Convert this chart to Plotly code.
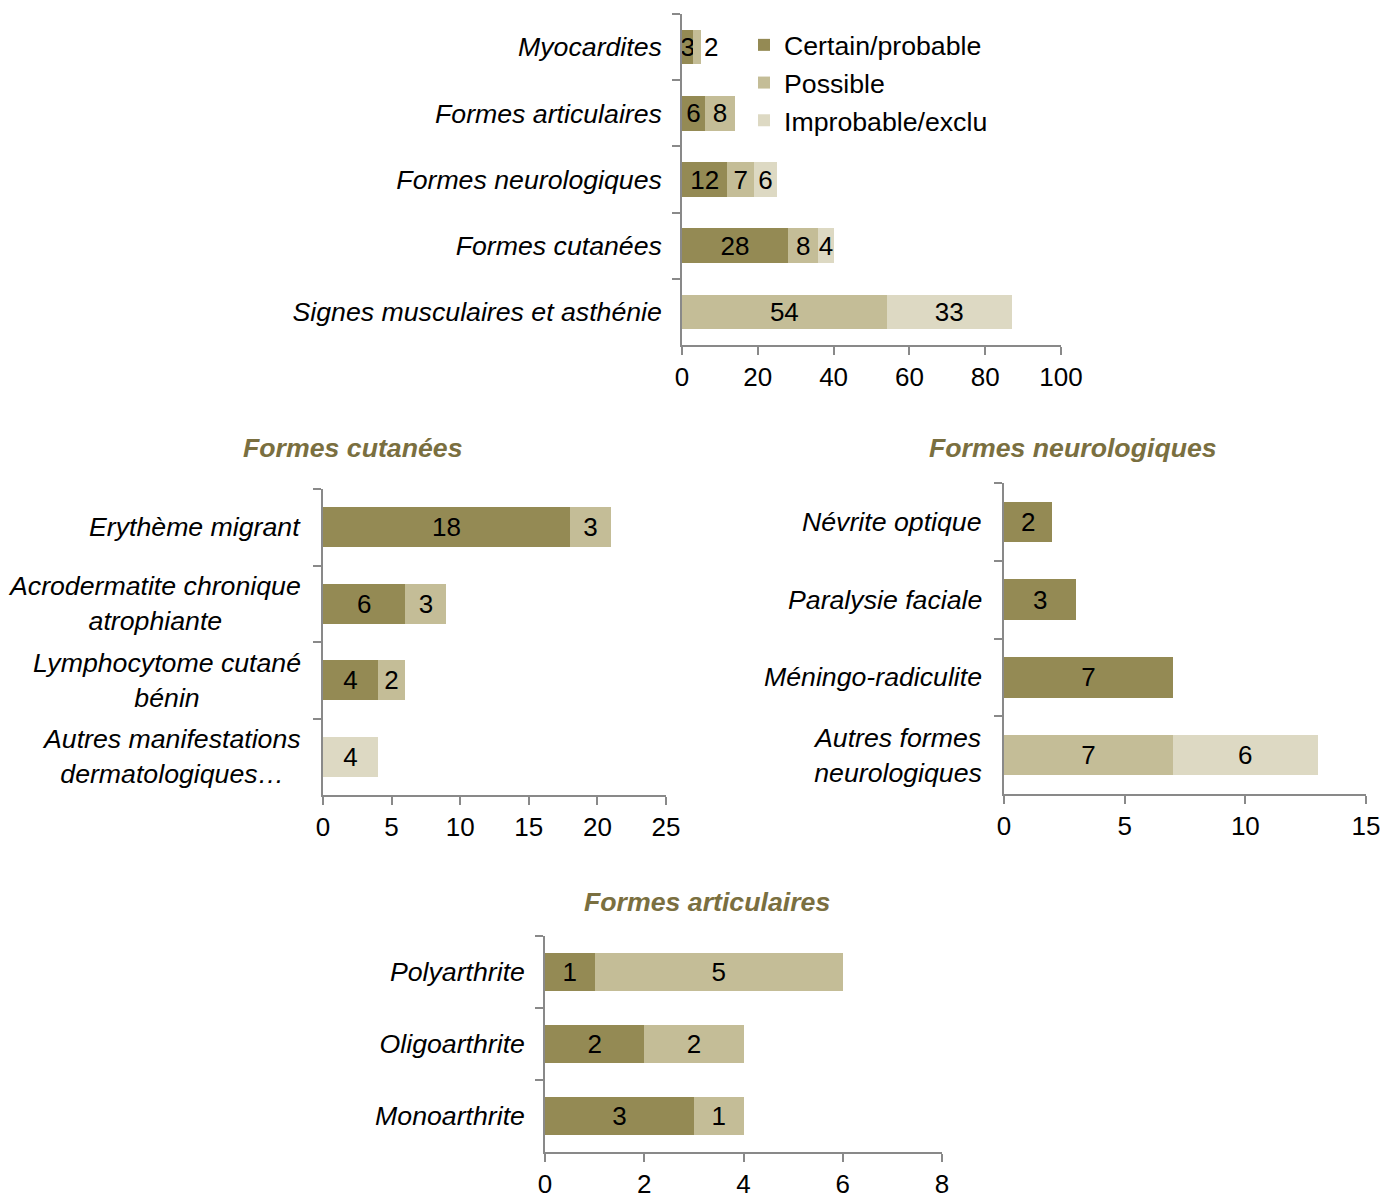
import plotly.graph_objects as go

# ---------------- data ----------------
series_names = ["Certain/probable", "Possible", "Improbable/exclu"]
colors = ["#948A54", "#C4BD97", "#DDD9C3"]

main_cats = ["Myocardites", "Formes articulaires", "Formes neurologiques",
             "Formes cutanées", "Signes musculaires et asthénie"]
main_certain = [3, 6, 12, 28, 0]
main_possible = [2, 8, 7, 8, 54]
main_improb = [0, 0, 6, 4, 33]

cut_cats = ["Erythème migrant", "Acrodermatite chronique<br>atrophiante",
            "Lymphocytome cutané<br>bénin", "Autres manifestations<br>dermatologiques…"]
cut_certain = [18, 6, 4, 0]
cut_possible = [3, 3, 2, 0]
cut_improb = [0, 0, 0, 4]

neu_cats = ["Névrite optique", "Paralysie faciale", "Méningo-radiculite",
            "Autres formes<br>neurologiques"]
neu_certain = [2, 3, 7, 0]
neu_possible = [0, 0, 0, 7]
neu_improb = [0, 0, 0, 6]

art_cats = ["Polyarthrite", "Oligoarthrite", "Monoarthrite"]
art_certain = [1, 2, 3]
art_possible = [5, 2, 1]
art_improb = [0, 0, 0]

titles = ["Formes cutanées", "Formes neurologiques", "Formes articulaires"]

# ---------------- styling ----------------
FONT = "Arial, 'Liberation Sans', sans-serif"
AXIS_COLOR = "#898989"
TITLE_COLOR = "#7A6F40"
TXT = 26.7
NUM = 26
W, H = 1384, 1193

fig = go.Figure()

panels = [
    (main_cats, [main_certain, main_possible, main_improb], "x", "y", (682, 1061), (14, 345), 100, 20, True),
    (cut_cats, [cut_certain, cut_possible, cut_improb], "x2", "y2", (323, 666), (489, 795), 25, 5, False),
    (neu_cats, [neu_certain, neu_possible, neu_improb], "x3", "y3", (1004, 1366), (483, 794), 15, 5, False),
    (art_cats, [art_certain, art_possible, art_improb], "x4", "y4", (545, 942), (936, 1152), 8, 2, True),
]

layout_axes = {}
annotations = []
for p, (cats, series, xa, ya, xdom, ydom, xmax, dtick, use_ticks) in enumerate(panels):
    px_per_unit = (xdom[1] - xdom[0]) / xmax
    for s, vals in enumerate(series):
        xs = [v if v else None for v in vals]
        txt = [str(v) if v else "" for v in vals]
        # segments too narrow for their label: put the label just past the bar end
        pos = []
        for i, v in enumerate(vals):
            later = sum(series[k][i] for k in range(s + 1, len(series)))
            if v and v * px_per_unit < 12 and s > 0 and later == 0:
                pos.append("outside")
            else:
                pos.append("inside")
        fig.add_trace(go.Bar(
            x=xs, y=cats, orientation="h",
            name=series_names[s],
            marker=dict(color=colors[s], line=dict(width=0)),
            text=txt, textposition=pos, insidetextanchor="middle",
            textangle=0, constraintext="none", cliponaxis=False,
            textfont=dict(family=FONT, size=NUM, color="black"),
            outsidetextfont=dict(family=FONT, size=NUM, color="black"),
            xaxis=xa, yaxis=ya,
            showlegend=(p == 0), legendgroup=series_names[s],
            hoverinfo="skip",
        ))
    xkey = "xaxis" if xa == "x" else "xaxis" + xa[1:]
    ykey = "yaxis" if ya == "y" else "yaxis" + ya[1:]
    layout_axes[xkey] = dict(
        domain=[xdom[0] / W, xdom[1] / W], anchor=ya,
        range=[0, xmax], dtick=dtick, tick0=0,
        showgrid=False, zeroline=False, automargin=False,
        showline=True, linecolor=AXIS_COLOR, linewidth=1.5,
        ticks="outside", ticklen=8, tickwidth=1.5, tickcolor=AXIS_COLOR,
        ticklabelstandoff=0,
        tickfont=dict(family=FONT, size=NUM, color="black"),
        fixedrange=True,
    )
    layout_axes[ykey] = dict(
        domain=[1 - ydom[1] / H, 1 - ydom[0] / H], anchor=xa,
        type="category", categoryorder="array", categoryarray=cats,
        autorange="reversed", automargin=False,
        showgrid=False, zeroline=False,
        showline=True, linecolor=AXIS_COLOR, linewidth=1.5,
        ticks="outside", ticklen=8, tickwidth=1.5, tickcolor=AXIS_COLOR,
        tickson="boundaries",
        showticklabels=use_ticks,
        ticklabelstandoff=13,
        tickfont=dict(family=FONT, size=TXT, color="black", style="italic"),
        fixedrange=True,
    )
    if not use_ticks:
        for c in cats:
            annotations.append(dict(
                text=c, xref=xa + " domain", yref=ya, x=0, y=c,
                xanchor="right", yanchor="middle", xshift=-20, align="center",
                showarrow=False,
                font=dict(family=FONT, size=TXT, color="black", style="italic"),
            ))

title_pos = [(353, 448), (1073, 448), (707, 902)]
for t, (tx, ty) in zip(titles, title_pos):
    annotations.append(dict(
        text="<b><i>%s</i></b>" % t, xref="paper", yref="paper",
        x=tx / W, y=1 - ty / H, xanchor="center", yanchor="middle",
        showarrow=False,
        font=dict(family=FONT, size=TXT, color=TITLE_COLOR),
    ))

fig.update_layout(
    width=W, height=H, autosize=False,
    margin=dict(l=0, r=0, t=0, b=0, pad=0, autoexpand=False),
    paper_bgcolor="white", plot_bgcolor="white",
    barmode="stack", bargap=0.48,
    showlegend=True,
    legend=dict(
        x=744 / W, y=1 - 21 / H, xanchor="left", yanchor="top",
        font=dict(family=FONT, size=TXT, color="black"),
        traceorder="normal", bgcolor="rgba(0,0,0,0)",
        itemclick=False, itemdoubleclick=False,
    ),
    annotations=annotations,
    font=dict(family=FONT),
    **layout_axes,
)

fig.write_html("out.html")
